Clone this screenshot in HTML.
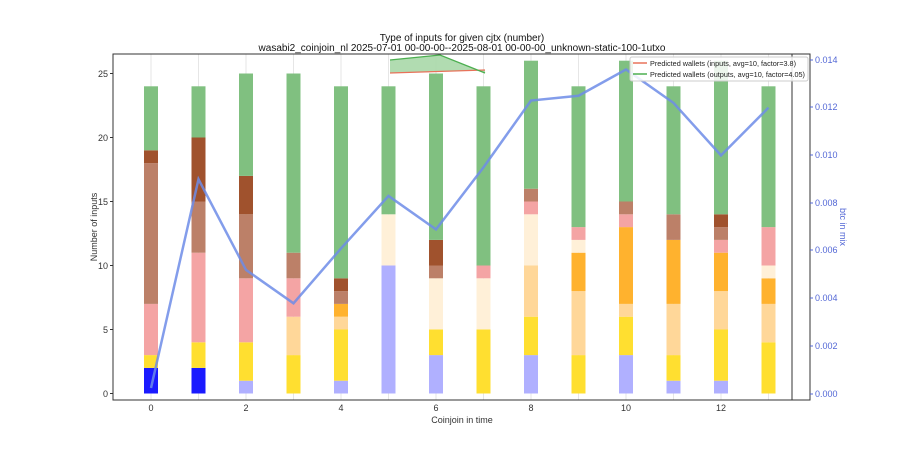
<!DOCTYPE html>
<html><head><meta charset="utf-8"><style>
body{margin:0;background:#fff}
svg text{font-family:"Liberation Sans","DejaVu Sans",sans-serif}
</style></head><body>
<svg id="s" width="900" height="450" viewBox="0 0 900 450" xmlns="http://www.w3.org/2000/svg">
<rect width="900" height="450" fill="#fff"/>
<g id="grid" stroke="#e6e6e6" stroke-width="1"></g>
<g id="bars"></g>
<polygon points="390,60 440,55 485,73 485,70 390,73" fill="#a8d8a8" opacity="0.9"/>
<polyline points="390,73 485,70" stroke="#e8725a" stroke-width="1.3" fill="none"/>
<polyline points="390,60 440,55 485,73" stroke="#4caf50" stroke-width="1.3" fill="none"/>
<line x1="792" y1="54" x2="792" y2="400" stroke="#333" stroke-width="1"/>
<polyline id="ln" fill="none" stroke="#6d8ce8" stroke-width="2.5" opacity="0.85"/>
<rect x="113" y="54" width="697" height="346" fill="none" stroke="#333" stroke-width="1"/>
<g font-size="9" fill="#333" text-anchor="end">
<text x="108" y="397">0</text><text x="108" y="333">5</text><text x="108" y="269">10</text>
<text x="108" y="205">15</text><text x="108" y="141">20</text><text x="108" y="77">25</text>
</g>
<g stroke="#333"><line x1="110" x2="113" y1="393.5" y2="393.5"/><line x1="110" x2="113" y1="329.5" y2="329.5"/><line x1="110" x2="113" y1="265.5" y2="265.5"/><line x1="110" x2="113" y1="201.5" y2="201.5"/><line x1="110" x2="113" y1="137.5" y2="137.5"/><line x1="110" x2="113" y1="73.5" y2="73.5"/></g>
<g font-size="9" fill="#333" text-anchor="middle">
<text x="151" y="411">0</text><text x="246" y="411">2</text><text x="341" y="411">4</text><text x="436" y="411">6</text>
<text x="531" y="411">8</text><text x="626" y="411">10</text><text x="721" y="411">12</text>
<text x="462" y="423">Coinjoin in time</text>
</g>
<text x="97" y="227" font-size="9" fill="#333" text-anchor="middle" transform="rotate(-90 97 227)">Number of inputs</text>
<g font-size="9" fill="#5468d6">
<text x="815" y="397">0.000</text><text x="815" y="349">0.002</text><text x="815" y="301">0.004</text>
<text x="815" y="253">0.006</text><text x="815" y="206">0.008</text><text x="815" y="158">0.010</text>
<text x="815" y="110">0.012</text><text x="815" y="63">0.014</text>
<text x="840" y="227" text-anchor="middle" transform="rotate(90 840 227)">btc in mix</text>
</g>
<g stroke="#5468d6"><line x1="810" x2="813" y1="394" y2="394"/><line x1="810" x2="813" y1="346" y2="346"/><line x1="810" x2="813" y1="298" y2="298"/><line x1="810" x2="813" y1="250" y2="250"/><line x1="810" x2="813" y1="203" y2="203"/><line x1="810" x2="813" y1="155" y2="155"/><line x1="810" x2="813" y1="107" y2="107"/><line x1="810" x2="813" y1="60" y2="60"/></g>
<g font-size="10" fill="#111" text-anchor="middle">
<text x="462" y="41">Type of inputs for given cjtx (number)</text>
<text x="462" y="51">wasabi2_coinjoin_nl 2025-07-01 00-00-00--2025-08-01 00-00-00_unknown-static-100-1utxo</text>
</g>
<rect x="630" y="57" width="178" height="24" fill="#fff" fill-opacity="0.85" stroke="#ccc" rx="2"/>
<line x1="633" x2="647" y1="63" y2="63" stroke="#e8725a" stroke-width="1.5"/>
<line x1="633" x2="647" y1="74" y2="74" stroke="#4caf50" stroke-width="1.5"/>
<g font-size="7.5" fill="#222"><text x="650" y="66" textLength="146" lengthAdjust="spacingAndGlyphs">Predicted wallets (inputs, avg=10, factor=3.8)</text>
<text x="650" y="77" textLength="155" lengthAdjust="spacingAndGlyphs">Predicted wallets (outputs, avg=10, factor=4.05)</text></g>
</svg>
<script>
var C={b:"#1a1aff",lb:"#b0b0ff",g:"#ffdf30",lo:"#ffd799",o:"#ffb22e",pw:"#fff0d8",p:"#f4a4a4",r:"#bc8068",s:"#a0522d",gr:"#80c080"};
var D=[
[["b",2],["g",1],["p",4],["r",11],["s",1],["gr",5]],
[["b",2],["g",2],["p",7],["r",4],["s",5],["gr",4]],
[["lb",1],["g",3],["p",5],["r",5],["s",3],["gr",8]],
[["g",3],["lo",3],["p",3],["r",2],["gr",14]],
[["lb",1],["g",4],["lo",1],["o",1],["r",1],["s",1],["gr",15]],
[["lb",10],["pw",4],["gr",10]],
[["lb",3],["g",2],["pw",4],["r",1],["s",2],["gr",13]],
[["g",5],["pw",4],["p",1],["gr",14]],
[["lb",3],["g",3],["lo",4],["pw",4],["p",1],["r",1],["gr",10]],
[["g",3],["lo",5],["o",3],["pw",1],["p",1],["gr",11]],
[["lb",3],["g",3],["lo",1],["o",6],["p",1],["r",1],["gr",11]],
[["lb",1],["g",2],["lo",4],["o",5],["r",2],["gr",10]],
[["lb",1],["g",4],["lo",3],["o",3],["p",1],["r",1],["s",1],["gr",12]],
[["g",4],["lo",3],["o",2],["pw",1],["p",3],["gr",11]]];
var L=[0.00025,0.009,0.0052,0.0038,0.0061,0.0083,0.0069,0.0095,0.0123,0.0125,0.0136,0.0122,0.0100,0.0120];
var ns="http://www.w3.org/2000/svg",bars=document.getElementById("bars"),grid=document.getElementById("grid"),pts=[];
function X(i){return 151+i*47.5}
for(var i=0;i<14;i++){var x=X(i);
 var gl=document.createElementNS(ns,"line");gl.setAttribute("x1",x);gl.setAttribute("x2",x);gl.setAttribute("y1",54);gl.setAttribute("y2",400);grid.appendChild(gl);
 var y0=0;D[i].forEach(function(s){var r=document.createElementNS(ns,"rect");
  var top=393.5-(y0+s[1])*12.8;r.setAttribute("x",x-7);r.setAttribute("width",14);r.setAttribute("y",top);r.setAttribute("height",s[1]*12.8);r.setAttribute("fill",C[s[0]]);bars.appendChild(r);y0+=s[1];});
 pts.push(x+","+(394-L[i]*23860));}
document.getElementById("ln").setAttribute("points",pts.join(" "));
</script>
</body></html>
